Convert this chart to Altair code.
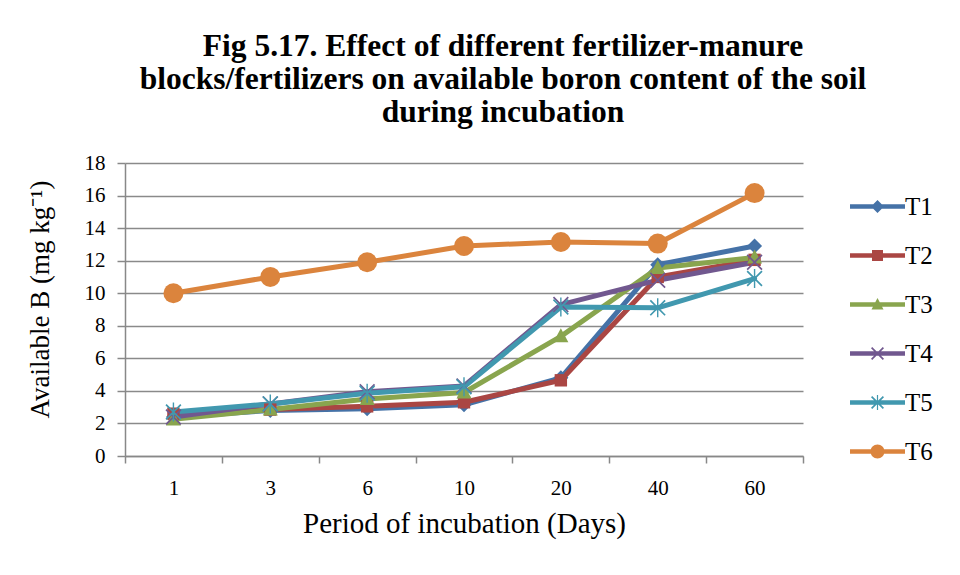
import altair as alt
import pandas as pd

days = ["1", "3", "6", "10", "20", "40", "60"]
series = ["T1", "T2", "T3", "T4", "T5", "T6"]
T1 = [2.4, 2.8, 2.9, 3.15, 4.8, 11.75, 12.9]
T2 = [2.6, 2.85, 3.05, 3.3, 4.65, 11.0, 12.05]
T3 = [2.25, 2.85, 3.5, 3.9, 7.35, 11.55, 12.2]
T4 = [2.4, 3.2, 3.95, 4.3, 9.3, 10.8, 11.9]
T5 = [2.7, 3.2, 3.85, 4.25, 9.15, 9.1, 10.9]
T6 = [10.0, 11.0, 11.9, 12.9, 13.15, 13.05, 16.15]
colors = ["#4572A7", "#AA4643", "#89A54E", "#71588F", "#4198AF", "#DB843D"]

values = [T1, T2, T3, T4, T5, T6]
rows = []
for s, vals in zip(series, values):
    for d, v in zip(days, vals):
        rows.append({"Day": d, "Series": s, "Value": v})
df = pd.DataFrame(rows)

# marker paths (unit = 10 px at size 400)
diamond = "M0,-0.75L0.75,0L0,0.75L-0.75,0Z"
square = "M-0.62,-0.62L0.62,-0.62L0.62,0.62L-0.62,0.62Z"
triangle = "M0,-0.8L0.75,0.6L-0.75,0.6Z"
xmark = ("M-0.8,-0.68L-0.68,-0.8L0.8,0.68L0.68,0.8Z "
         "M-0.68,0.8L-0.8,0.68L0.68,-0.8L0.8,-0.68Z")
star = xmark + " M-0.07,-0.95L0.07,-0.95L0.07,0.95L-0.07,0.95Z"
circle = "circle"
marker_paths = [diamond, square, triangle, xmark, star, circle]

# legend symbols: line segment plus marker
bar = "M-2.75,-0.22L2.75,-0.22L2.75,0.22L-2.75,0.22Z "
ldiamond = bar + "M0,-0.65L0.65,0L0,0.65L-0.65,0Z"
lsquare = bar + "M-0.55,-0.55L0.55,-0.55L0.55,0.55L-0.55,0.55Z"
ltriangle = bar + "M0,-0.65L0.6,0.5L-0.6,0.5Z"
lx = bar + ("M-0.65,-0.53L-0.53,-0.65L0.65,0.53L0.53,0.65Z "
            "M-0.53,0.65L-0.65,0.53L0.53,-0.65L0.65,-0.53Z")
lstar = lx + " M-0.06,-0.75L0.06,-0.75L0.06,0.75L-0.06,0.75Z"
lcircle = bar + "M-0.7,0A0.7,0.7 0 1,1 0.7,0A0.7,0.7 0 1,1 -0.7,0Z"
legend_paths = [ldiamond, lsquare, ltriangle, lx, lstar, lcircle]

FONT = "Liberation Serif"

x_enc = alt.X(
    "Day:O",
    sort=days,
    scale=alt.Scale(type="band", paddingInner=0, paddingOuter=0),
    axis=alt.Axis(
        title="Period of incubation (Days)",
        labelAngle=0,
        tickBand="extent",
        grid=False,
        domainColor="#888888",
        domainWidth=1.5,
        tickColor="#888888",
        tickWidth=1.5,
        tickSize=7,
        labelPadding=14,
        labelColor="black",
        labelFont=FONT,
        labelFontSize=21,
        labelFontWeight="normal",
        titleFont=FONT,
        titleFontSize=29,
        titleFontWeight="normal",
        titleColor="black",
        titlePadding=11,
    ),
)
y_enc = alt.Y(
    "Value:Q",
    scale=alt.Scale(domain=[0, 18], nice=False),
    axis=alt.Axis(
        title="Available B (mg kg⁻¹)",
        values=list(range(0, 19, 2)),
        grid=True,
        gridColor="#8a8a8a",
        gridWidth=1.6,
        domainColor="#888888",
        domainWidth=1.5,
        tickColor="#888888",
        tickWidth=1.5,
        tickSize=8,
        labelPadding=12,
        labelColor="black",
        labelFont=FONT,
        labelFontSize=21,
        labelFontWeight="normal",
        titleFont=FONT,
        titleFontSize=27,
        titleFontWeight="normal",
        titleColor="black",
        titlePadding=30,
        titleY=136,
    ),
)

base = alt.Chart(df)

lines = base.mark_line(strokeWidth=5, strokeJoin="round", strokeCap="round").encode(
    x=x_enc,
    y=y_enc,
    color=alt.Color("Series:N", scale=alt.Scale(domain=series, range=colors), legend=None),
)

points = base.mark_point(filled=True, opacity=1, size=400, strokeWidth=0).encode(
    x=x_enc,
    y=y_enc,
    color=alt.Color("Series:N", scale=alt.Scale(domain=series, range=colors), legend=None),
    shape=alt.Shape("Series:N", scale=alt.Scale(domain=series, range=marker_paths), legend=None),
    order=alt.Order("Series:N"),
)

leg = alt.Legend(
    title=None,
    orient="none",
    legendX=740,
    legendY=31,
    labelOffset=15,
    rowPadding=23,
    symbolOpacity=1,
    symbolStrokeWidth=0,
    symbolSize=400,
    labelFont=FONT,
    labelFontSize=25,
    labelFontWeight="normal",
    labelColor="black",
)

legend_layer = base.mark_point(filled=True, opacity=0, size=400).encode(
    x=x_enc,
    y=y_enc,
    color=alt.Color("Series:N", scale=alt.Scale(domain=series, range=colors), legend=leg),
    shape=alt.Shape("Series:N", scale=alt.Scale(domain=series, range=legend_paths), legend=leg),
)

chart = (
    alt.layer(lines, points, legend_layer)
    .resolve_scale(color="independent", shape="independent")
    .properties(
        width=678,
        height=293,
        autosize=alt.AutoSizeParams(type="none"),
        padding={"left": 117, "top": 155, "right": 140, "bottom": 100},
        title=alt.Title(
            ["Fig 5.17. Effect of different fertilizer-manure",
             "blocks/fertilizers on available boron content of the soil",
             "during incubation"],
            font=FONT,
            fontSize=31.5,
            fontWeight="bold",
            color="black",
            lineHeight=33,
            anchor="middle",
            dx=39,
            offset=24,
        ),
    )
    .configure(background="white")
    .configure_view(stroke=None)
)

chart.save("out.html", embed_options={"renderer": "svg", "actions": False})
